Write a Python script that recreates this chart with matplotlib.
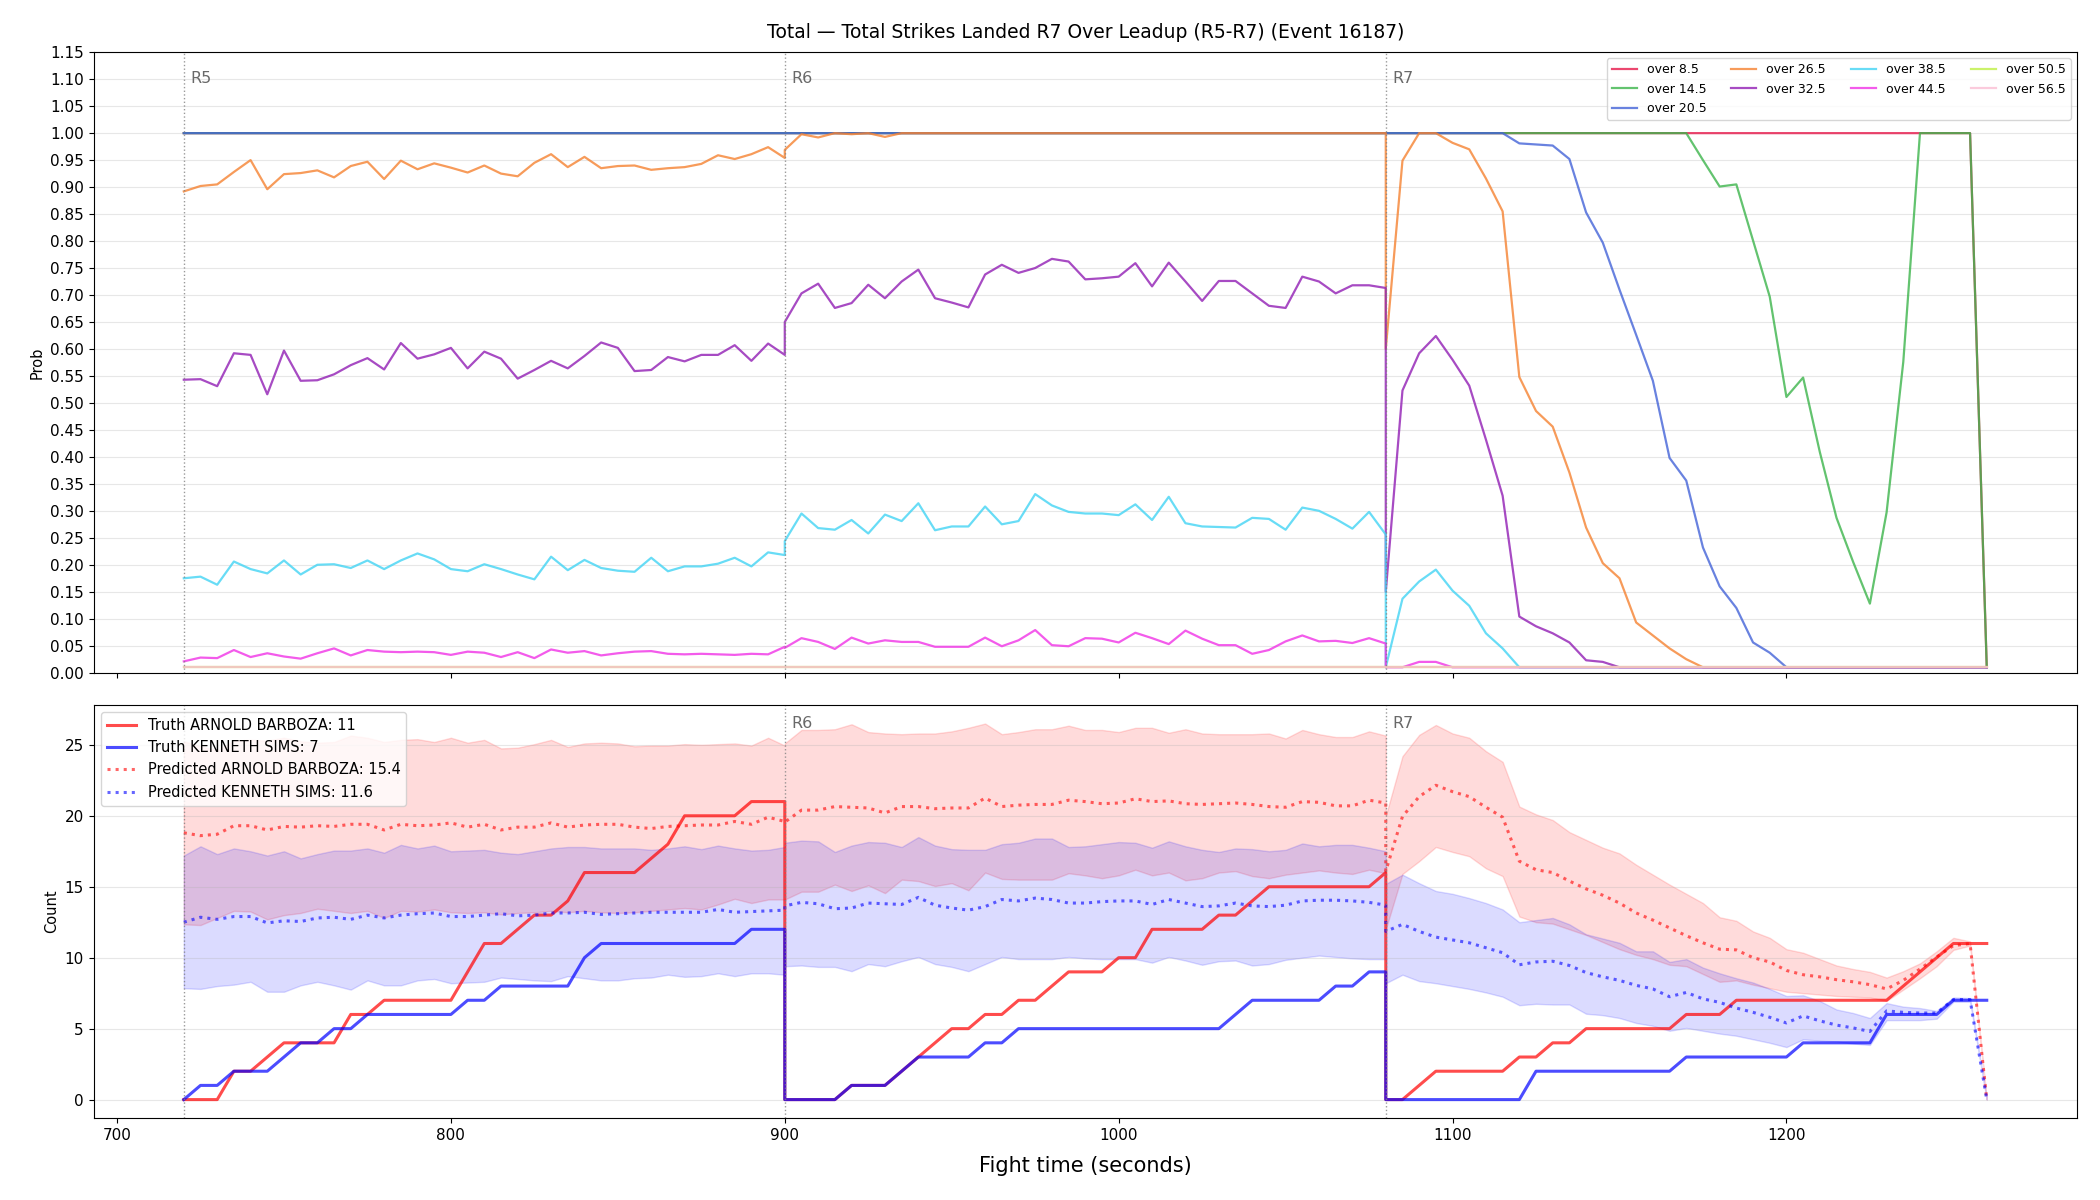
import numpy as np
import matplotlib
matplotlib.use('Agg')
import matplotlib.pyplot as plt
from matplotlib.ticker import FormatStrFormatter

# rounds: each sampled every 5 s, R5 720-900, R6 900-1080, R7 1080-1260
round_names = ['R5', 'R6', 'R7']
round_starts = [720, 900, 1080]
round_len = 180
step = 5

# ---- top panel: P(R7 total strikes over X) ----
line_labels = ['over 8.5', 'over 14.5', 'over 20.5', 'over 26.5', 'over 32.5',
               'over 38.5', 'over 44.5', 'over 50.5', 'over 56.5']
line_colors = ['#e6194B', '#3cb44b', '#4363d8', '#f58231', '#911eb4',
               '#42d4f4', '#f032e6', '#bfef45', '#fabed4']

o85_r5 = [1.0] * 37
o85_r6 = [1.0] * 37
o85_r7 = [1.0] * 36 + [0.01]

o145_r5 = [1.0] * 37
o145_r6 = [1.0] * 37
o145_r7 = [1.0] * 19 + [0.95, 0.901, 0.905, 0.801, 0.697, 0.511, 0.547, 0.409, 0.287,
                        0.205, 0.128, 0.297, 0.576, 1.0, 1.0, 1.0, 1.0, 0.01]

o205_r5 = [1.0] * 37
o205_r6 = [1.0] * 37
o205_r7 = [1.0] * 8 + [0.981, 0.979, 0.977, 0.952, 0.853, 0.797, 0.710, 0.626, 0.541,
                       0.398, 0.356, 0.232, 0.160, 0.120, 0.056, 0.037] + [0.01] * 13

o265_r5 = [0.892, 0.902, 0.905, 0.928, 0.950, 0.896, 0.924, 0.926, 0.931, 0.918, 0.939, 0.947,
           0.915, 0.949, 0.933, 0.944, 0.936, 0.927, 0.940, 0.925, 0.920, 0.945, 0.961, 0.937,
           0.956, 0.935, 0.939, 0.940, 0.932, 0.935, 0.937, 0.943, 0.959, 0.952, 0.961, 0.974, 0.954]
o265_r6 = [0.969, 0.998, 0.992, 1.0, 0.998, 1.0, 0.993] + [1.0] * 30
o265_r7 = [0.60, 0.949, 1.0, 1.0, 0.982, 0.970, 0.916, 0.855, 0.548, 0.485, 0.456, 0.371,
           0.269, 0.203, 0.175, 0.093, 0.069, 0.045, 0.025] + [0.01] * 18

o325_r5 = [0.543, 0.544, 0.531, 0.592, 0.589, 0.516, 0.597, 0.541, 0.542, 0.553, 0.570, 0.583,
           0.562, 0.611, 0.582, 0.590, 0.602, 0.564, 0.595, 0.582, 0.545, 0.561, 0.578, 0.564,
           0.587, 0.612, 0.602, 0.559, 0.561, 0.585, 0.577, 0.589, 0.589, 0.607, 0.578, 0.610, 0.589]
o325_r6 = [0.650, 0.703, 0.721, 0.676, 0.685, 0.719, 0.694, 0.725, 0.747, 0.694, 0.686, 0.677,
           0.738, 0.756, 0.741, 0.750, 0.767, 0.762, 0.729, 0.731, 0.734, 0.759, 0.716, 0.760,
           0.725, 0.689, 0.726, 0.726, 0.703, 0.680, 0.676, 0.734, 0.725, 0.703, 0.718, 0.718, 0.713]
o325_r7 = [0.15, 0.523, 0.592, 0.624, 0.580, 0.532, 0.432, 0.328, 0.104, 0.086, 0.073, 0.056,
           0.023, 0.020] + [0.01] * 23

o385_r5 = [0.175, 0.178, 0.163, 0.206, 0.192, 0.184, 0.208, 0.182, 0.200, 0.201, 0.194, 0.208,
           0.192, 0.208, 0.221, 0.210, 0.192, 0.188, 0.201, 0.192, 0.182, 0.173, 0.215, 0.190,
           0.209, 0.194, 0.189, 0.187, 0.213, 0.188, 0.197, 0.197, 0.202, 0.213, 0.197, 0.223, 0.218]
o385_r6 = [0.244, 0.295, 0.268, 0.265, 0.283, 0.258, 0.293, 0.281, 0.314, 0.264, 0.271, 0.271,
           0.308, 0.275, 0.281, 0.331, 0.310, 0.298, 0.295, 0.295, 0.292, 0.312, 0.283, 0.326,
           0.277, 0.271, 0.270, 0.269, 0.287, 0.285, 0.265, 0.306, 0.300, 0.285, 0.267, 0.298, 0.256]
o385_r7 = [0.01, 0.137, 0.169, 0.191, 0.152, 0.124, 0.073, 0.045] + [0.01] * 29

o445_r5 = [0.021, 0.028, 0.027, 0.042, 0.029, 0.036, 0.030, 0.026, 0.036, 0.045, 0.032, 0.042,
           0.039, 0.038, 0.039, 0.038, 0.033, 0.039, 0.037, 0.029, 0.038, 0.027, 0.043, 0.037,
           0.040, 0.032, 0.036, 0.039, 0.040, 0.035, 0.034, 0.035, 0.034, 0.033, 0.035, 0.034, 0.048]
o445_r6 = [0.046, 0.064, 0.057, 0.044, 0.065, 0.054, 0.060, 0.057, 0.057, 0.048, 0.048, 0.048,
           0.065, 0.049, 0.060, 0.079, 0.051, 0.049, 0.064, 0.063, 0.056, 0.074, 0.064, 0.053,
           0.078, 0.063, 0.051, 0.051, 0.035, 0.042, 0.058, 0.069, 0.058, 0.059, 0.055, 0.064, 0.054]
o445_r7 = [0.01, 0.01, 0.02, 0.02] + [0.01] * 33

o505_r5 = [0.01] * 37
o505_r6 = [0.01] * 37
o505_r7 = [0.01] * 37
o565_r5 = [0.01] * 37
o565_r6 = [0.01] * 37
o565_r7 = [0.01] * 37

# ---- bottom panel: truth vs predicted counts ----
truth_red_label = 'Truth ARNOLD BARBOZA: 11'
truth_blue_label = 'Truth KENNETH SIMS: 7'
pred_red_label = 'Predicted ARNOLD BARBOZA: 15.4'
pred_blue_label = 'Predicted KENNETH SIMS: 11.6'

tr_r5 = [0, 0, 0, 2, 2, 3, 4, 4, 4, 4, 6, 6, 7, 7, 7, 7, 7, 9, 11, 11, 12, 13, 13, 14, 16, 16,
         16, 16, 17, 18, 20, 20, 20, 20, 21, 21, 21]
tr_r6 = [0, 0, 0, 0, 1, 1, 1, 2, 3, 4, 5, 5, 6, 6, 7, 7, 8, 9, 9, 9, 10, 10, 12, 12, 12, 12,
         13, 13, 14, 15, 15, 15, 15, 15, 15, 15, 16]
tr_r7 = [0, 0, 1, 2, 2, 2, 2, 2, 3, 3, 4, 4, 5, 5, 5, 5, 5, 5, 6, 6, 6, 7, 7, 7, 7, 7, 7, 7,
         7, 7, 7, 8, 9, 10, 11, 11, 11]

tb_r5 = [0, 1, 1, 2, 2, 2, 3, 4, 4, 5, 5, 6, 6, 6, 6, 6, 6, 7, 7, 8, 8, 8, 8, 8, 10, 11, 11,
         11, 11, 11, 11, 11, 11, 11, 12, 12, 12]
tb_r6 = [0, 0, 0, 0, 1, 1, 1, 2, 3, 3, 3, 3, 4, 4, 5, 5, 5, 5, 5, 5, 5, 5, 5, 5, 5, 5, 5, 6,
         7, 7, 7, 7, 7, 8, 8, 9, 9]
tb_r7 = [0, 0, 0, 0, 0, 0, 0, 0, 0, 2, 2, 2, 2, 2, 2, 2, 2, 2, 3, 3, 3, 3, 3, 3, 3, 4, 4, 4,
         4, 4, 6, 6, 6, 6, 7, 7, 7]

pr_r5 = [18.8, 18.6, 18.7, 19.3, 19.3, 19.0, 19.25, 19.2, 19.3, 19.25, 19.4, 19.4, 19.0, 19.4,
         19.3, 19.35, 19.5, 19.2, 19.4, 19.0, 19.2, 19.2, 19.5, 19.2, 19.35, 19.4, 19.4, 19.2,
         19.1, 19.25, 19.3, 19.35, 19.35, 19.6, 19.4, 19.9, 19.6]
pr_r6 = [19.55, 20.4, 20.4, 20.65, 20.6, 20.55, 20.2, 20.65, 20.65, 20.5, 20.55, 20.55, 21.25,
         20.65, 20.75, 20.8, 20.8, 21.1, 21.0, 20.85, 20.9, 21.2, 21.0, 21.05, 20.85, 20.8, 20.85,
         20.9, 20.8, 20.65, 20.6, 21.0, 20.95, 20.7, 20.7, 21.1, 20.9]
pr_r7 = [16.1, 19.95, 21.35, 22.15, 21.7, 21.35, 20.6, 19.9, 16.8, 16.2, 16.0, 15.4, 14.85, 14.4,
         13.85, 13.15, 12.65, 12.1, 11.55, 11.05, 10.6, 10.55, 10.0, 9.7, 9.1, 8.8, 8.65, 8.45,
         8.3, 8.1, 7.8, 8.4, 9.2, 10.05, 10.85, 11.0, 0]

ur_r5 = [25.25, 24.9, 24.6, 25.3, 25.35, 25.3, 25.5, 25.25, 25.15, 25.2, 25.65, 25.5, 25.2,
         25.35, 25.4, 25.2, 25.5, 25.15, 25.35, 24.75, 24.8, 25.05, 25.35, 24.85, 25.1, 25.15,
         25.1, 24.9, 24.95, 24.95, 25.05, 25.0, 25.05, 25.1, 24.95, 25.5, 24.95]
ur_r6 = [25.1, 26.05, 26.05, 26.1, 26.45, 25.9, 25.8, 25.75, 25.8, 25.8, 25.95, 26.2, 26.5,
         25.75, 25.9, 26.1, 26.1, 26.35, 26.05, 26.05, 25.9, 26.2, 26.2, 25.85, 26.1, 25.8, 25.75,
         25.75, 25.75, 25.8, 25.45, 26.05, 25.75, 25.55, 25.55, 25.95, 25.65]
ur_r7 = [20.0, 24.2, 25.7, 26.4, 25.8, 25.5, 24.55, 23.8, 20.65, 20.1, 19.7, 18.85, 18.3, 17.75,
         17.35, 16.55, 15.85, 15.15, 14.5, 13.85, 12.85, 12.6, 11.85, 11.4, 10.6, 10.35, 9.9, 9.45,
         9.2, 9.0, 8.6, 9.05, 9.6, 10.45, 11.4, 11.15, 0]

lr_r5 = [12.35, 12.3, 12.8, 13.3, 13.25, 12.7, 13.0, 13.15, 13.45, 13.3, 13.15, 13.3, 12.8,
         13.3, 13.25, 13.4, 13.2, 13.15, 13.2, 13.05, 13.15, 13.2, 13.3, 13.2, 13.3, 13.2, 13.15,
         13.2, 13.3, 13.4, 13.5, 13.4, 13.75, 14.15, 13.85, 14.1, 14.1]
lr_r6 = [14.1, 14.65, 14.65, 15.15, 14.7, 15.1, 14.55, 15.5, 15.4, 15.05, 15.25, 14.75, 16.0,
         15.55, 15.5, 15.5, 15.5, 15.95, 15.8, 15.6, 15.8, 16.2, 15.8, 16.0, 15.45, 15.6, 16.0,
         16.1, 15.75, 15.6, 15.85, 16.0, 16.15, 16.0, 15.9, 16.2, 15.95]
lr_r7 = [12.0, 15.9, 16.8, 17.8, 17.45, 17.15, 16.3, 15.75, 12.9, 12.5, 12.4, 12.0, 11.6, 11.1,
         10.6, 10.2, 9.9, 9.5, 9.4, 8.85, 8.3, 8.4, 8.1, 7.85, 7.6, 7.5, 7.4, 7.3, 7.25, 7.2,
         6.95, 7.75, 8.55, 9.4, 10.55, 10.85, 0]

pb_r5 = [12.5, 12.85, 12.7, 12.9, 12.9, 12.45, 12.6, 12.55, 12.8, 12.85, 12.7, 13.0, 12.8, 13.0,
         13.1, 13.15, 12.9, 12.9, 13.0, 13.1, 12.95, 13.0, 13.15, 13.15, 13.2, 13.05, 13.1, 13.15,
         13.2, 13.2, 13.2, 13.2, 13.4, 13.2, 13.25, 13.3, 13.35]
pb_r6 = [13.65, 13.9, 13.8, 13.45, 13.5, 13.85, 13.8, 13.75, 14.25, 13.7, 13.5, 13.35, 13.6,
         14.1, 14.0, 14.2, 14.1, 13.85, 13.85, 13.95, 14.0, 14.0, 13.75, 14.1, 13.85, 13.6, 13.65,
         13.85, 13.65, 13.6, 13.7, 14.0, 14.05, 14.05, 14.0, 13.9, 13.7]
pb_r7 = [11.85, 12.35, 11.85, 11.45, 11.25, 11.05, 10.7, 10.35, 9.5, 9.7, 9.75, 9.45, 8.95, 8.65,
         8.4, 8.05, 7.8, 7.25, 7.55, 7.1, 6.85, 6.45, 6.15, 5.8, 5.4, 5.9, 5.55, 5.25, 5.05, 4.8,
         6.25, 6.15, 6.1, 6.1, 7.05, 7.05, 0]

ub_r5 = [17.2, 17.85, 17.3, 17.7, 17.5, 17.2, 17.5, 17.0, 17.3, 17.55, 17.55, 17.7, 17.4, 17.95,
         17.7, 17.9, 17.5, 17.55, 17.6, 17.4, 17.3, 17.5, 17.7, 17.8, 17.8, 17.7, 17.7, 17.7, 17.6,
         17.7, 17.85, 17.65, 17.9, 17.7, 17.55, 17.6, 17.8]
ub_r6 = [18.1, 18.25, 18.2, 17.45, 17.9, 18.15, 18.1, 17.8, 18.5, 17.9, 17.65, 17.6, 17.6, 18.0,
         18.1, 18.4, 18.4, 17.8, 17.85, 18.0, 18.15, 18.1, 17.75, 18.2, 17.85, 17.6, 17.45, 17.7,
         17.65, 17.5, 17.6, 18.05, 17.85, 17.95, 17.95, 17.75, 17.5]
ub_r7 = [15.2, 15.85, 15.25, 14.7, 14.5, 14.2, 13.85, 13.4, 12.5, 12.65, 12.8, 12.35, 11.65,
         11.35, 11.05, 10.45, 10.45, 9.7, 9.9, 9.3, 8.9, 8.55, 8.25, 7.8, 7.3, 7.35, 6.95, 6.35,
         6.1, 5.75, 6.8, 6.55, 6.45, 6.25, 7.2, 7.15, 0]

lb_r5 = [7.85, 7.8, 8.0, 8.1, 8.3, 7.6, 7.6, 8.05, 8.3, 8.05, 7.75, 8.4, 8.05, 8.05, 8.4, 8.5,
         8.2, 8.25, 8.3, 8.6, 8.5, 8.4, 8.35, 8.7, 8.55, 8.4, 8.4, 8.55, 8.6, 8.8, 8.65, 8.7, 8.9,
         8.7, 8.9, 8.9, 8.8]
lb_r6 = [9.4, 9.45, 9.35, 9.35, 9.05, 9.55, 9.4, 9.75, 10.05, 9.55, 9.35, 9.05, 9.55, 10.05, 9.9,
         9.9, 9.9, 10.05, 9.95, 9.9, 9.9, 9.9, 9.65, 10.05, 9.8, 9.5, 9.75, 9.8, 9.45, 9.55, 9.85,
         10.0, 10.15, 10.05, 9.95, 9.9, 9.9]
lb_r7 = [8.2, 8.8, 8.35, 8.2, 8.0, 7.8, 7.55, 7.25, 6.65, 6.75, 6.7, 6.7, 6.05, 5.95, 5.75, 5.4,
         5.2, 4.85, 5.05, 4.85, 4.65, 4.5, 4.25, 4.0, 3.7, 4.25, 4.15, 4.1, 3.95, 3.85, 5.6, 5.6,
         5.6, 5.7, 6.9, 6.9, 0]


# time axis: each round repeats its start point, so rounds join with a vertical jump
t = np.concatenate([np.arange(s, s + round_len + 1, step) for s in round_starts])

prob_series = [
    o85_r5 + o85_r6 + o85_r7,
    o145_r5 + o145_r6 + o145_r7,
    o205_r5 + o205_r6 + o205_r7,
    o265_r5 + o265_r6 + o265_r7,
    o325_r5 + o325_r6 + o325_r7,
    o385_r5 + o385_r6 + o385_r7,
    o445_r5 + o445_r6 + o445_r7,
    o505_r5 + o505_r6 + o505_r7,
    o565_r5 + o565_r6 + o565_r7,
]

plt.rcParams['xtick.labelsize'] = 11
plt.rcParams['ytick.labelsize'] = 11

fig, (ax1, ax2) = plt.subplots(2, 1, figsize=(21, 12), sharex=True,
                               gridspec_kw={'height_ratios': [3, 2]})
fig.subplots_adjust(left=0.0446, right=0.989, top=0.9565, bottom=0.068, hspace=0.062)

# top panel
for lab, col, vals in zip(line_labels, line_colors, prob_series):
    ax1.plot(t, vals, color=col, lw=1.6, alpha=0.8, label=lab)

ax1.set_ylim(0, 1.15)
ax1.set_yticks(np.round(np.arange(0, 1.151, 0.05), 2))
ax1.yaxis.set_major_formatter(FormatStrFormatter('%.2f'))
ax1.grid(axis='y', alpha=0.3)
ax1.set_ylabel('Prob', fontsize=10.5)
ax1.set_title('Total \u2014 Total Strikes Landed R7 Over Leadup (R5-R7) (Event 16187)',
              fontsize=13.5, pad=10)
ax1.legend(loc='upper right', ncol=4, fontsize=9)

# bottom panel
ax2.fill_between(t, lr_r5 + lr_r6 + lr_r7, ur_r5 + ur_r6 + ur_r7, color='red', alpha=0.14)
ax2.fill_between(t, lb_r5 + lb_r6 + lb_r7, ub_r5 + ub_r6 + ub_r7, color='blue', alpha=0.14)
ax2.plot(t, tr_r5 + tr_r6 + tr_r7, color='red', lw=2.2, alpha=0.7, label=truth_red_label)
ax2.plot(t, tb_r5 + tb_r6 + tb_r7, color='blue', lw=2.2, alpha=0.7, label=truth_blue_label)
ax2.plot(t, pr_r5 + pr_r6 + pr_r7, color='red', ls=':', lw=2.2, alpha=0.6, label=pred_red_label)
ax2.plot(t, pb_r5 + pb_r6 + pb_r7, color='blue', ls=':', lw=2.2, alpha=0.6, label=pred_blue_label)
ax2.grid(axis='y', alpha=0.3)
ax2.set_ylabel('Count', fontsize=10.5)
ax2.set_xlabel('Fight time (seconds)', fontsize=15, labelpad=9)

# round markers (the R5 tag of the lower panel sits under its legend, so it is left out)
for s, name in zip(round_starts, round_names):
    ax1.axvline(s, color='gray', ls=':', lw=1, alpha=0.8)
    ax1.text(s + 2, 0.957, name, transform=ax1.get_xaxis_transform(),
             color='dimgray', fontsize=11.5, va='center')
    ax2.axvline(s, color='gray', ls=':', lw=1, alpha=0.8)
    if name != 'R5':
        ax2.text(s + 2, 0.955, name, transform=ax2.get_xaxis_transform(),
                 color='dimgray', fontsize=11.5, va='center')

ax2.legend(loc='upper left', fontsize=10.5)

plt.savefig('out.png', dpi=100)
